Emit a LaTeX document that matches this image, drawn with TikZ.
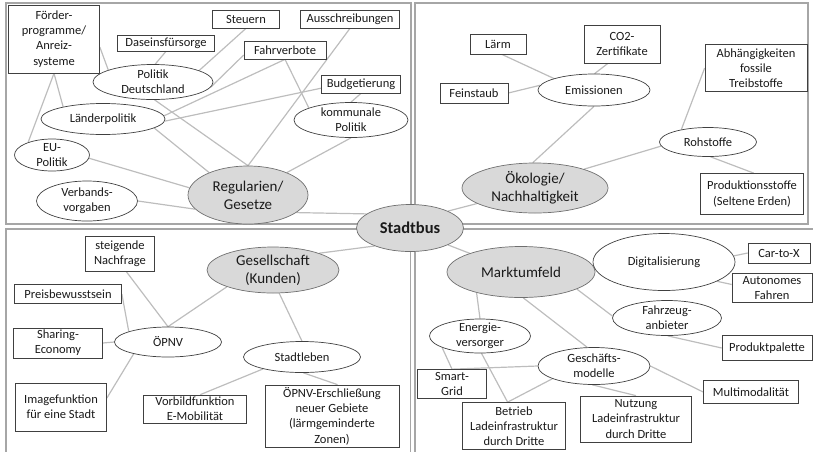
\documentclass[tikz,border=0pt]{standalone}
\usepackage{fontspec}
\setmainfont{Carlito}
\usetikzlibrary{shapes.geometric}
\pgfdeclarelayer{bg}
\pgfsetlayers{bg,main}
\definecolor{framegray}{HTML}{A6A6A6}
\definecolor{linkgray}{HTML}{BDBDBD}
\definecolor{edgegray}{HTML}{404040}
\definecolor{hubfill}{HTML}{D9D9D9}
\definecolor{hubedge}{HTML}{6F6F6F}
\definecolor{txt}{HTML}{1A1A1A}
\begin{document}
\begin{tikzpicture}[x=1pt,y=-1pt,
  sz/.style 2 args={minimum width=#1pt, minimum height=#2pt},
  box/.style={rectangle, draw=edgegray, line width=0.7pt, fill=white, inner sep=0pt,
    align=center, text=txt, font=\fontsize{12.5}{15.3}\selectfont},
  oval/.style={ellipse, draw=edgegray, line width=0.7pt, fill=white, inner sep=-30pt,
    align=center, text=txt, font=\fontsize{12.5}{15.3}\selectfont},
  hub/.style={ellipse, draw=hubedge, line width=0.7pt, fill=hubfill, inner sep=-30pt,
    align=center, text=txt, font=\fontsize{15}{18.3}\selectfont},
  link/.style={draw=linkgray, line width=1.2pt},
  frame/.style={draw=framegray, line width=1.5pt}]
\useasboundingbox (0,0) rectangle (813,451);

% ---------- Regularien / Gesetze ----------
\node[box, sz={91}{68}] (foerder) at (54,39) {Förder-\\programme/\\Anreiz-\\systeme};
\node[box, sz={67}{18}] (steuern) at (246,19) {Steuern};
\node[box, sz={99}{18}] (aussch) at (350,19) {Ausschreibungen};
\node[box, sz={97}{16}] (dasein) at (166,43) {Daseinsfürsorge};
\node[box, sz={82}{18}] (fahrv) at (285,50) {Fahrverbote};
\node[oval, sz={120}{35}] (polde) at (153,82) {Politik\\Deutschland};
\node[box, sz={79}{18}] (budget) at (361,84) {Budgetierung};
\node[oval, sz={124}{31}] (laender) at (103,119) {Länderpolitik};
\node[oval, sz={114}{35}] (kommunal) at (351,120) {kommunale\\Politik};
\node[oval, sz={75}{32}] (eu) at (52,155) {EU-\\Politik};
\node[oval, sz={101}{40}] (verband) at (87,201) {Verbands-\\vorgaben};
\node[hub, sz={120}{58}] (regul) at (248,195) {Regularien/\\Gesetze};
\node[hub, sz={107}{47}, font=\bfseries\fontsize{16.5}{19}\selectfont] (stadtbus) at (410,228) {Stadtbus};

% ---------- Ökologie / Nachhaltigkeit ----------
\node[box, sz={56}{20}] (laerm) at (498,44) {Lärm};
\node[box, sz={76}{38}] (co2) at (622,44) {CO2-\\Zertifikate};
\node[box, sz={102}{47}] (abh) at (756,68) {Abhängigkeiten\\fossile\\Treibstoffe};
\node[box, sz={68}{20}] (fein) at (474,93) {Feinstaub};
\node[oval, sz={112}{32}] (emis) at (594,90) {Emissionen};
\node[oval, sz={97}{29}] (roh) at (708,142) {Rohstoffe};
\node[hub, sz={146}{50}] (oeko) at (535,188) {Ökologie/\\Nachhaltigkeit};
\node[box, sz={103}{41}] (prod) at (752,194) {Produktionsstoffe\\(Seltene Erden)};

% ---------- Gesellschaft ----------
\node[box, sz={69}{35}] (nachfrage) at (120,254) {steigende\\Nachfrage};
\node[hub, sz={132}{46}] (gesell) at (273,270) {Gesellschaft\\(Kunden)};
\node[box, sz={107}{19}] (preis) at (68,294) {Preisbewusstsein};
\node[box, sz={89}{30}] (sharing) at (58,343) {Sharing-\\Economy};
\node[oval, sz={107}{30}] (oepnv) at (168,342) {ÖPNV};
\node[oval, sz={117}{31}] (stadtleben) at (302,357) {Stadtleben};
\node[box, sz={91}{48}] (image) at (61,407) {Imagefunktion\\für eine Stadt};
\node[box, sz={103}{28}] (vorbild) at (195,409) {Vorbildfunktion\\E-Mobilität};
\node[box, sz={134}{62}] (erschl) at (332,416) {ÖPNV-Erschließung\\neuer Gebiete\\(lärmgeminderte\\Zonen)};

% ---------- Marktumfeld ----------
\node[hub, sz={148}{51}] (markt) at (521,272) {Marktumfeld};
\node[oval, sz={142}{57}] (digi) at (664,262) {Digitalisierung};
\node[box, sz={62}{20}] (carx) at (779,253) {Car-to-X};
\node[box, sz={80}{29}] (auto) at (772,288) {Autonomes\\Fahren};
\node[oval, sz={109}{35}] (fahrz) at (667,318) {Fahrzeug-\\anbieter};
\node[oval, sz={101}{34}] (energie) at (480,336) {Energie-\\versorger};
\node[box, sz={90}{25}] (produkt) at (767,348) {Produktpalette};
\node[oval, sz={112}{37}] (gesch) at (594,366) {Geschäfts-\\modelle};
\node[box, sz={69}{29}] (smart) at (452,384) {Smart-\\Grid};
\node[box, sz={95}{23}] (multi) at (751,392) {Multimodalität};
\node[box, sz={103}{47}] (betrieb) at (514,426) {Betrieb\\Ladeinfrastruktur\\durch Dritte};
\node[box, sz={111}{46}] (nutzung) at (636,419) {Nutzung\\Ladeinfrastruktur\\durch Dritte};

\begin{pgfonlayer}{bg}
  % quadrant frames
  \begin{scope}
    \clip (0,0) rectangle (813,451);
    \draw[frame] (6,3) rectangle (411,224);
    \draw[frame] (415,3) rectangle (808,224);
    \draw[frame] (6,229) rectangle (410.5,470);
    \draw[frame] (415,229) rectangle (830,470);
  \end{scope}

  % Regularien / Gesetze
  \draw[link] (foerder.-10) -- (polde.165);
  \draw[link] (foerder.south) -- (laender.163);
  \draw[link] (foerder.south) -- (eu.152);
  \draw[link] (dasein.south) -- (polde.83);
  \draw[link] (steuern.south) -- (polde.14);
  \draw[link] (fahrv.187) -- (polde.-5);
  \draw[link] (laender.3) -- (fahrv.south);
  \draw[link] (laender.-2) -- (budget.186);
  \draw[link] (fahrv.south) -- (kommunal.164);
  \draw[link] (budget.south) -- (kommunal.north);
  \draw[link] (aussch.south) -- (regul.north);
  \draw[link] (polde.-85) -- (regul.north);
  \draw[link] (laender.-10) -- (regul.150);
  \draw[link] (eu.-5) -- (regul.173);
  \draw[link] (kommunal.south) -- (regul.30);
  \draw[link] (verband.east) -- (regul.195);
  \draw[link] (regul.-20) -- (stadtbus.162);

  % Ökologie / Nachhaltigkeit
  \draw[link] (laerm.-70) -- (emis.164);
  \draw[link] (co2.-126) -- (emis.88);
  \draw[link] (fein.east) -- (emis.175);
  \draw[link] (emis.south) -- (oeko.95);
  \draw[link] (oeko.21) -- (roh.185);
  \draw[link] (roh.155) -- (abh.west);
  \draw[link] (roh.-80) -- (prod.85);
  \draw[link] (oeko.195) -- (stadtbus.24);

  % Gesellschaft
  \draw[link] (stadtbus.207) -- (gesell.20);
  \draw[link] (gesell.200) -- (oepnv.north);
  \draw[link] (gesell.-75) -- (stadtleben.north);
  \draw[link] (nachfrage.-70) -- (oepnv.north);
  \draw[link] (preis.east) -- (oepnv.165);
  \draw[link] (sharing.east) -- (oepnv.west);
  \draw[link] (image.11) -- (oepnv.199);
  \draw[link] (stadtleben.197) -- (vorbild.70);
  \draw[link] (stadtleben.-85) -- (erschl.80);

  % Marktumfeld
  \draw[link] (stadtbus.-24) -- (markt.160);
  \draw[link] (markt.3) -- (digi.173);
  \draw[link] (digi.5) -- (carx.west);
  \draw[link] (digi.-20) -- (auto.175);
  \draw[link] (markt.-17) -- (fahrz.178);
  \draw[link] (fahrz.-88) -- (produkt.west);
  \draw[link] (markt.205) -- (energie.north);
  \draw[link] (markt.-85) -- (gesch.110);
  \draw[link] (energie.197) -- (smart.north);
  \draw[link] (energie.-85) -- (betrieb.105);
  \draw[link] (smart.north) -- (gesch.west);
  \draw[link] (gesch.197) -- (betrieb.105);
  \draw[link] (gesch.-95) -- (nutzung.north);
  \draw[link] (gesch.east) -- (multi.west);
\end{pgfonlayer}
\end{tikzpicture}
\end{document}
